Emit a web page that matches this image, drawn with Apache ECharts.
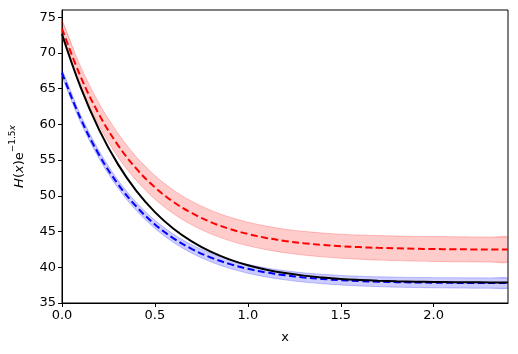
<!DOCTYPE html>
<html>
<head>
<meta charset="utf-8">
<script src="https://cdn.jsdelivr.net/npm/echarts@6/dist/echarts.min.js"></script>
<style>
  html, body { margin: 0; padding: 0; background: #fff; }
  #chart { width: 518px; height: 354px; }
</style>
</head>
<body>
<div id="chart"></div>
<script>
// x grid
var xs = [0, 0.1, 0.2, 0.3, 0.4, 0.5, 0.6, 0.7, 0.8, 0.9, 1.0, 1.1, 1.2,
          1.3, 1.4, 1.5, 1.6, 1.7, 1.8, 1.9, 2.0, 2.1, 2.2, 2.3, 2.4];

// black solid curve
var blackVals = [72.65, 65.20, 59.23, 54.47, 50.69, 47.72, 45.39, 43.58, 42.18, 41.11,
                 40.28, 39.66, 39.19, 38.83, 38.57, 38.37, 38.23, 38.12, 38.04, 37.99,
                 37.95, 37.92, 37.90, 37.88, 37.87];

// red dashed curve and its band
var redVals = [73.40, 66.69, 61.36, 57.13, 53.80, 51.18, 49.14, 47.56, 46.33, 45.38,
               44.66, 44.11, 43.68, 43.37, 43.13, 42.95, 42.82, 42.72, 42.65, 42.59,
               42.55, 42.52, 42.50, 42.48, 42.47];
var redLower = [72.20, 65.29, 59.81, 55.48, 52.15, 49.53, 47.49, 45.91, 44.68, 43.73,
                43.01, 42.46, 42.03, 41.71, 41.46, 41.27, 41.13, 41.01, 40.93, 40.86,
                40.81, 40.77, 40.75, 40.73, 40.72];
var redUpper = [74.60, 68.09, 62.91, 58.78, 55.45, 52.83, 50.79, 49.21, 47.98, 47.03,
                46.31, 45.76, 45.33, 45.03, 44.80, 44.63, 44.51, 44.43, 44.37, 44.32,
                44.29, 44.27, 44.25, 44.23, 44.22];

// blue dashed curve and its band
var blueVals = [67.20, 60.81, 55.72, 51.68, 48.50, 46.00, 44.05, 42.54, 41.37, 40.47,
                39.79, 39.27, 38.88, 38.58, 38.36, 38.19, 38.07, 37.98, 37.92, 37.87,
                37.84, 37.82, 37.80, 37.79, 37.78];
var blueLower = [66.70, 60.29, 55.18, 51.13, 47.94, 45.43, 43.47, 41.95, 40.77, 39.86,
                 39.17, 38.64, 38.24, 37.93, 37.70, 37.52, 37.39, 37.29, 37.22, 37.17,
                 37.13, 37.10, 37.08, 37.07, 37.06];
var blueUpper = [67.70, 61.33, 56.26, 52.23, 49.06, 46.57, 44.63, 43.13, 41.97, 41.08,
                 40.41, 39.90, 39.52, 39.23, 39.02, 38.86, 38.75, 38.67, 38.62, 38.57,
                 38.55, 38.54, 38.52, 38.51, 38.50];

var xTicks = [0, 0.5, 1.0, 1.5, 2.0];
var yTicks = [35, 40, 45, 50, 55, 60, 65, 70, 75];

function pairs(vals) {
  var res = [];
  for (var i = 0; i < xs.length; i++) res.push([xs[i], vals[i]]);
  return res;
}
function bandRows(lo, hi) {
  var res = [];
  for (var i = 0; i < xs.length; i++) res.push([xs[i], lo[i], hi[i]]);
  return res;
}

var font = 'DejaVu Sans';
var chart = echarts.init(document.getElementById('chart'), null, { renderer: 'canvas' });

// fill_between style band, drawn as one smooth polygon from the first item
function bandSeries(lo, hi, rgb) {
  return {
    type: 'custom', data: bandRows(lo, hi), silent: true, z: 1, clip: true,
    renderItem: function (params, api) {
      if (params.dataIndex !== 0) return null;
      var lower = [], upper = [];
      for (var i = 0; i < xs.length; i++) {
        lower.push(api.coord([xs[i], lo[i]]));
        upper.push(api.coord([xs[i], hi[i]]));
      }
      var edge = 'rgba(' + rgb + ',0.22)';
      return {
        type: 'group',
        children: [
          { type: 'polygon', shape: { points: lower.concat(upper.slice().reverse()), smooth: 0.3 },
            style: { fill: 'rgba(' + rgb + ',0.2)' } },
          { type: 'polyline', shape: { points: lower, smooth: 0.3 },
            style: { stroke: edge, lineWidth: 1, fill: null } },
          { type: 'polyline', shape: { points: upper, smooth: 0.3 },
            style: { stroke: edge, lineWidth: 1, fill: null } }
        ]
      };
    }
  };
}

var option = {
  animation: false,
  backgroundColor: '#ffffff',
  grid: {
    left: 57, right: 10, top: 10, bottom: 51,
    show: true, borderColor: '#000', borderWidth: 1, backgroundColor: 'transparent'
  },
  xAxis: {
    type: 'value', min: 0, max: 2.4,
    name: 'x', nameLocation: 'middle', nameGap: 28,
    nameTextStyle: { fontFamily: font, fontSize: 13, color: '#000' },
    splitLine: { show: false },
    axisLine: { show: true, onZero: false, lineStyle: { color: '#000', width: 1 } },
    axisTick: { show: true, length: 4, inside: false, customValues: xTicks,
                lineStyle: { color: '#000', width: 1 } },
    axisLabel: { customValues: xTicks, margin: 6, fontFamily: font, fontSize: 13, color: '#000',
                 formatter: function (v) { return v.toFixed(1); } }
  },
  yAxis: {
    type: 'value', min: 35, max: 76,
    name: '{i|H}{n|(}{i|x}{n|)e}{s|−1.5}{si|x}',
    nameLocation: 'middle', nameGap: 36, nameRotate: 90,
    nameTextStyle: {
      color: '#000',
      rich: {
        n: { fontFamily: font, fontSize: 13, color: '#000', lineHeight: 18, verticalAlign: 'bottom' },
        i: { fontFamily: font, fontSize: 13, fontStyle: 'italic', color: '#000', lineHeight: 18, verticalAlign: 'bottom' },
        s: { fontFamily: font, fontSize: 9, color: '#000', lineHeight: 18, verticalAlign: 'top' },
        si: { fontFamily: font, fontSize: 9, fontStyle: 'italic', color: '#000', lineHeight: 18, verticalAlign: 'top' }
      }
    },
    splitLine: { show: false },
    axisLine: { show: true, onZero: false, lineStyle: { color: '#000', width: 1 } },
    axisTick: { show: true, length: 4, inside: false, customValues: yTicks,
                lineStyle: { color: '#000', width: 1 } },
    axisLabel: { customValues: yTicks, margin: 6, fontFamily: font, fontSize: 13, color: '#000' }
  },
  series: [
    bandSeries(redLower, redUpper, '255,0,0'),
    bandSeries(blueLower, blueUpper, '0,0,255'),
    {
      name: 'blue', type: 'line', data: pairs(blueVals), symbol: 'none', smooth: 0.4,
      lineStyle: { color: '#0000ff', width: 2, type: [7, 3.5] }, z: 3
    },
    {
      name: 'red', type: 'line', data: pairs(redVals), symbol: 'none', smooth: 0.4,
      lineStyle: { color: '#ff0000', width: 2, type: [7, 3.5] }, z: 3
    },
    {
      name: 'black', type: 'line', data: pairs(blackVals), symbol: 'none', smooth: 0.4,
      lineStyle: { color: '#000000', width: 2 }, z: 4
    }
  ]
};

chart.setOption(option);
</script>
</body>
</html>
